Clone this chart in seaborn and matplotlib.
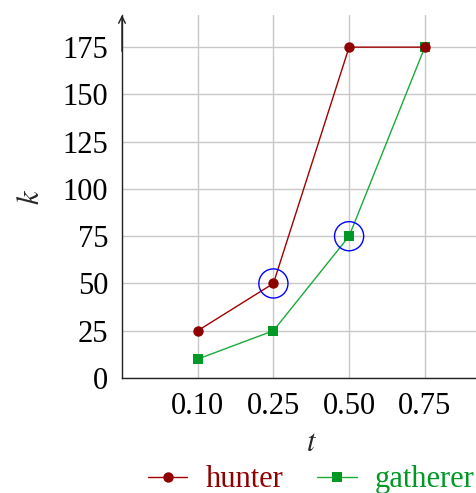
import matplotlib
matplotlib.use("Agg")
import matplotlib.pyplot as plt
import seaborn as sns
import pandas as pd
from matplotlib.lines import Line2D

# data
t_labels = ["0.10", "0.25", "0.50", "0.75"]
hunter = [25, 50, 175, 175]
gatherer = [10, 25, 75, 175]
highlight_t = ["0.25", "0.50"]
highlight_k = [50, 75]
y_ticks = [0, 25, 50, 75, 100, 125, 150, 175]

sns.set_theme(style="white")
plt.rcParams["font.family"] = ["Liberation Serif", "DejaVu Serif"]
plt.rcParams["mathtext.fontset"] = "stix"

red = "#8f0000"
red_line = "#a00000"
green = "#009926"
green_line = "#1aaa3a"
fs = 22

fig = plt.figure(figsize=(4.77, 4.93), dpi=100)
ax = fig.add_axes([122/477, 115/493, 378.5/477, 363/493])

pos = list(range(len(t_labels)))
df_h = pd.DataFrame({"pos": pos, "k": hunter})
df_g = pd.DataFrame({"pos": pos, "k": gatherer})

sns.lineplot(data=df_g, x="pos", y="k", ax=ax, color=green_line, marker="s",
             markersize=7, lw=1, markeredgewidth=0, markerfacecolor=green,
             zorder=3)
sns.lineplot(data=df_h, x="pos", y="k", ax=ax, color=red_line, marker="o",
             markersize=7.5, lw=1, markeredgewidth=0, markerfacecolor=red,
             zorder=4)

hx = [t_labels.index(v) for v in highlight_t]
ax.scatter(hx, highlight_k, s=440, facecolors="none", edgecolors="#0000ff",
           linewidths=1, zorder=5)

ax.set_xlim(-1, 4)
ax.set_ylim(0, 192)
ax.set_xticks(pos)
ax.set_xticklabels(t_labels)
ax.set_yticks(y_ticks)
ax.tick_params(axis="both", direction="out", length=6, width=1,
               labelsize=fs, pad=4, colors="black")
ax.tick_params(axis="both", color="#c0c0c0")
ax.grid(True, color="#c8c8c8", lw=1)
for s in ["top", "right"]:
    ax.spines[s].set_visible(False)
for s in ["left", "bottom"]:
    ax.spines[s].set_color("#222222")
    ax.spines[s].set_linewidth(1)

ax.annotate("", xy=(0, 1.0), xytext=(0, 0.9), xycoords="axes fraction",
            arrowprops=dict(arrowstyle="->", lw=1, color="#222222",
                            shrinkA=0, shrinkB=0), annotation_clip=False)

ax.set_xlabel("$t$", fontsize=fs, labelpad=6)
ax.set_ylabel("$k$", fontsize=fs, labelpad=12)

handles = [Line2D([], [], color=red_line, marker="o", markersize=7.5, lw=1,
                  markeredgewidth=0, markerfacecolor=red),
           Line2D([], [], color=green_line, marker="s", markersize=7, lw=1,
                  markeredgewidth=0, markerfacecolor=green)]
leg = ax.legend(handles, ["hunter", "gatherer"], loc="upper center",
                bbox_to_anchor=(0.5, -0.207), ncol=2, frameon=False,
                fontsize=fs, handlelength=1.3, handletextpad=0.6,
                columnspacing=1.1, borderaxespad=0)
for txt, c in zip(leg.get_texts(), [red, green]):
    txt.set_color(c)

fig.savefig("out.png", dpi=100)
